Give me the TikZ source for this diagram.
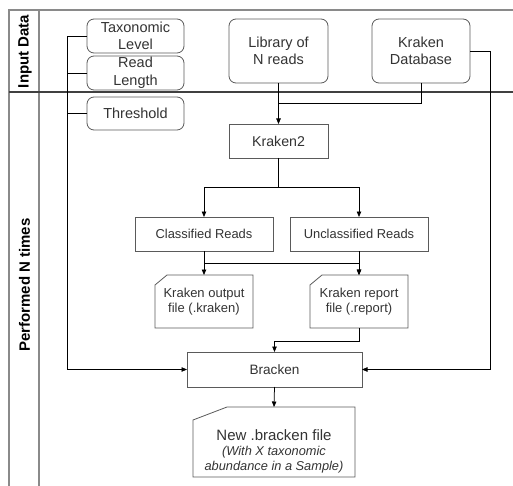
\documentclass[tikz,border=0pt]{standalone}
\usepackage{fontspec}
\setmainfont{Liberation Sans}
\usetikzlibrary{arrows.meta}
\definecolor{boxgray}{HTML}{5A5A5A}
\definecolor{framegray}{HTML}{8A8A8A}
\definecolor{txt}{HTML}{333333}
\tikzset{
  base/.style={inner sep=0pt, outer sep=0pt, align=center, text=txt},
  rbox/.style={base, draw=boxgray, line width=0.8pt, rounded corners=7pt, fill=white,
    font=\fontsize{14.5}{17.5}\selectfont},
  pbox/.style={base, draw=boxgray, line width=0.8pt, fill=white},
  doc/.style={base, font=\fontsize{13}{15}\selectfont},
  docline/.style={draw=boxgray, line width=0.8pt},
  conn/.style={draw=black, line width=0.75pt},
  arr/.style={conn, -{Triangle[length=5.5pt,width=4.5pt]}},
  lane/.style={draw=framegray, line width=1.1pt},
  lanelabel/.style={base, rotate=90, text=black, font=\bfseries\fontsize{15}{18}\selectfont},
  sz/.style 2 args={minimum width=#1pt, minimum height=#2pt}
}
\begin{document}
\begin{tikzpicture}[x=1pt,y=-1pt]
\useasboundingbox (0,0) rectangle (513,486);
% lanes
\draw[lane] (513,10) -- (9,10) -- (9,486);
\draw[lane] (39,10) -- (39,486);
\draw[draw=black!75, line width=1.6pt] (9,92) -- (513,92);
\node[lanelabel] (lab1) at (25,51.5) {Input Data};
\node[lanelabel] (lab2) at (24.5,285) {Performed N times};

% input nodes
\node[rbox, sz={97}{34}] (tax) at (135.5,36) {Taxonomic\\Level};
\node[rbox, sz={97}{34}] (len) at (135.5,73) {Read\\Length};
\node[rbox, sz={97}{33}] (thr) at (135.5,113.5) {Threshold};
\node[rbox, sz={99}{64}] (lib) at (278.5,51) {Library of\\N reads};
\node[rbox, sz={98}{64}] (db) at (421,51) {Kraken\\Database};

% process nodes
\node[pbox, sz={99}{34}, font=\fontsize{14.2}{17}\selectfont] (k2) at (278.5,141) {Kraken2};
\node[pbox, sz={138}{34}, font=\fontsize{12.9}{15}\selectfont] (cls) at (204,234) {Classified Reads};
\node[pbox, sz={138}{34}, font=\fontsize{12.9}{15}\selectfont] (ucl) at (359,234) {Unclassified Reads};
\node[doc, sz={98}{53}] (out) at (204,301.5) {Kraken output\\file (.kraken)};
\node[doc, sz={98}{53}] (rep) at (359,301.5) {Kraken report\\file (.report)};
\node[pbox, sz={175}{35}, font=\fontsize{13.6}{16}\selectfont] (br) at (274.5,369.5) {Bracken};
\node[base, sz={162}{70}, font=\fontsize{12.8}{15}\selectfont\itshape] (nb) at (274,442)
  {\rule{0pt}{29pt}{\upshape\fontsize{15}{15}\selectfont New .bracken file}\\
   (With X taxonomic\\abundance in a Sample)};

% document outlines
\draw[docline] ([xshift=12pt]out.north west) -- (out.north east) -- (out.south east) -- (out.south west) -- ([yshift=-10pt]out.north west) -- cycle;
\draw[docline] ([xshift=12pt]rep.north west) -- (rep.north east) -- (rep.south east) -- (rep.south west) -- ([yshift=-10pt]rep.north west) -- cycle;
\draw[docline] ([xshift=34pt]nb.north west) -- (nb.north east) -- (nb.south east) -- (nb.south west) -- ([yshift=-13pt]nb.north west) -- cycle;

% connectors
\coordinate (jn) at (278.5,103);
\draw[arr] (lib.south) -- (k2.north);
\draw[conn] (db.south) |- (jn);
\coordinate (dbr) at (490,51);
\draw[arr] (db.east) -- (dbr) |- (br.east);
\coordinate (lft) at (67,36);
\draw[arr] (tax.west) -- (lft) |- (br.west);
\draw[conn] (len.west) -- (len.west -| lft);
\draw[conn] (thr.west) -- (thr.west -| lft);
\coordinate (k2j) at (278.5,187);
\draw[arr] (k2.south) -- (k2j) -| (cls.north);
\draw[arr] (k2j) -| (ucl.north);
\draw[arr] (cls.south) -- (out.north);
\coordinate (cj) at (204,263);
\draw[arr] (cj) -| (rep.north);
\draw[arr] (ucl.south) -- (rep.north);
\coordinate (rj) at (359,341);
\draw[arr] (rep.south) -- (rj) -| (br.north);
\draw[arr] (br.south) -- (nb.north);
\end{tikzpicture}
\end{document}
